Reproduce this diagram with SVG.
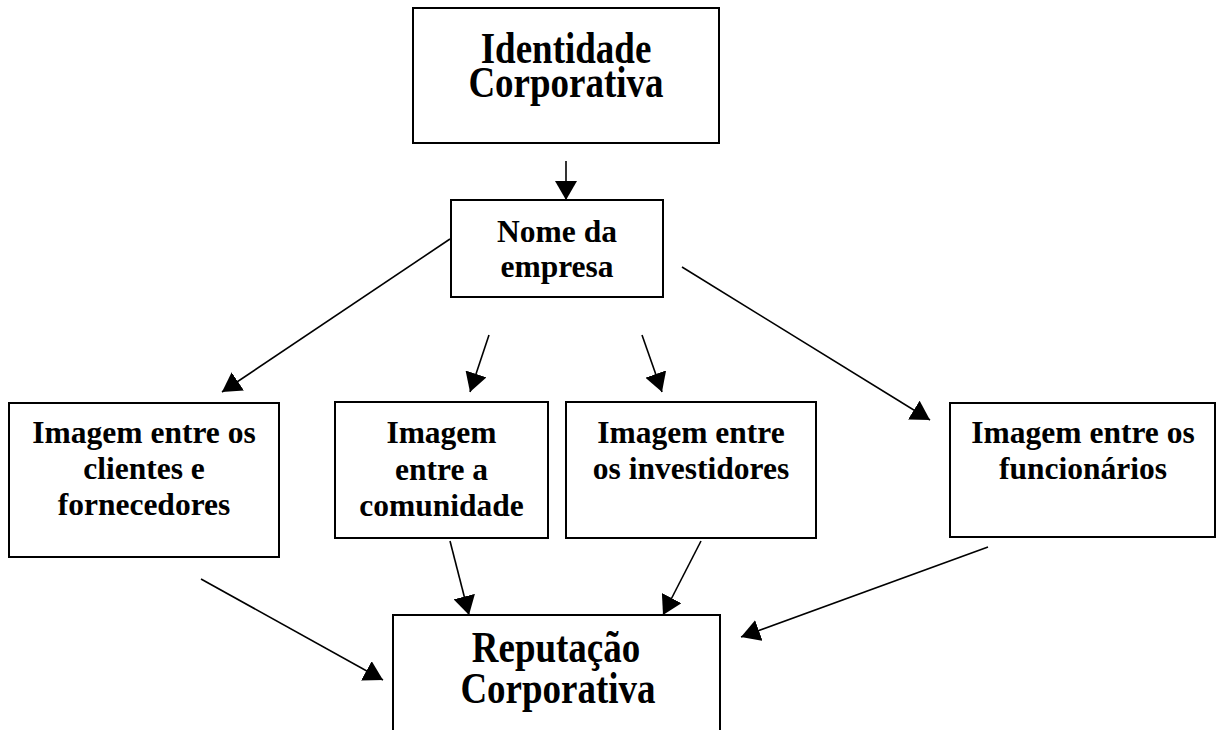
<svg xmlns="http://www.w3.org/2000/svg" width="1217" height="730" viewBox="0 0 1217 730">
<defs>
<style>
.box{fill:#fff;stroke:#000;stroke-width:2}
.t{font-family:"Liberation Serif","Times New Roman",serif;font-weight:bold;font-size:31.5px;fill:#000;text-anchor:middle}
.big{font-family:"Liberation Serif","Times New Roman",serif;font-weight:bold;font-size:37px;fill:#000;text-anchor:middle}
.c{stroke:#000;stroke-width:1.6;fill:none;marker-end:url(#ah)}
</style>
<marker id="ah" markerUnits="userSpaceOnUse" viewBox="0 0 19 22" markerWidth="19" markerHeight="22" refX="19" refY="11" orient="auto">
<path d="M0,0 L19,11 L0,22 z" fill="#000"/>
</marker>
</defs>
<rect width="1217" height="730" fill="#fff"/>
<g id="identidade">
<rect class="box" x="413" y="8" width="306" height="135"/>
<text class="big" transform="translate(566,63) scale(1,1.2)">Identidade</text>
<text class="big" transform="translate(566,97) scale(1,1.2)">Corporativa</text>
</g>
<g id="nome">
<rect class="box" x="451" y="200" width="212" height="97"/>
<text class="t" x="557" y="242">Nome da</text>
<text class="t" x="557" y="277">empresa</text>
</g>
<g id="clientes">
<rect class="box" x="9" y="403" width="270" height="154"/>
<text class="t" x="144" y="443">Imagem entre os</text>
<text class="t" x="144" y="479">clientes e</text>
<text class="t" x="144" y="515">fornecedores</text>
</g>
<g id="comunidade">
<rect class="box" x="335" y="402" width="213" height="136"/>
<text class="t" x="441.5" y="443">Imagem</text>
<text class="t" x="441.5" y="480">entre a</text>
<text class="t" x="441.5" y="516">comunidade</text>
</g>
<g id="investidores">
<rect class="box" x="566" y="402" width="250" height="136"/>
<text class="t" x="691" y="443">Imagem entre</text>
<text class="t" x="691" y="479">os investidores</text>
</g>
<g id="funcionarios">
<rect class="box" x="950" y="403" width="265" height="134"/>
<text class="t" x="1083" y="443">Imagem entre os</text>
<text class="t" x="1083" y="479">funcionários</text>
</g>
<g id="reputacao">
<path class="box" d="M393,740 V615 H720 V740"/>
<text class="big" transform="translate(556,662) scale(1,1.2)">Reputação</text>
<text class="big" transform="translate(558,703) scale(1,1.2)">Corporativa</text>
</g>
<g id="connectors">
<line class="c" x1="566" y1="161" x2="566" y2="200"/>
<line class="c" x1="450" y1="239" x2="222" y2="392"/>
<line class="c" x1="489" y1="335" x2="470" y2="392"/>
<line class="c" x1="642" y1="335" x2="662" y2="392"/>
<line class="c" x1="682" y1="267" x2="930" y2="420"/>
<line class="c" x1="201" y1="579" x2="383" y2="680"/>
<line class="c" x1="450" y1="541" x2="469" y2="615"/>
<line class="c" x1="701" y1="541" x2="663" y2="615"/>
<line class="c" x1="988" y1="547" x2="741" y2="637"/>
</g>
</svg>
